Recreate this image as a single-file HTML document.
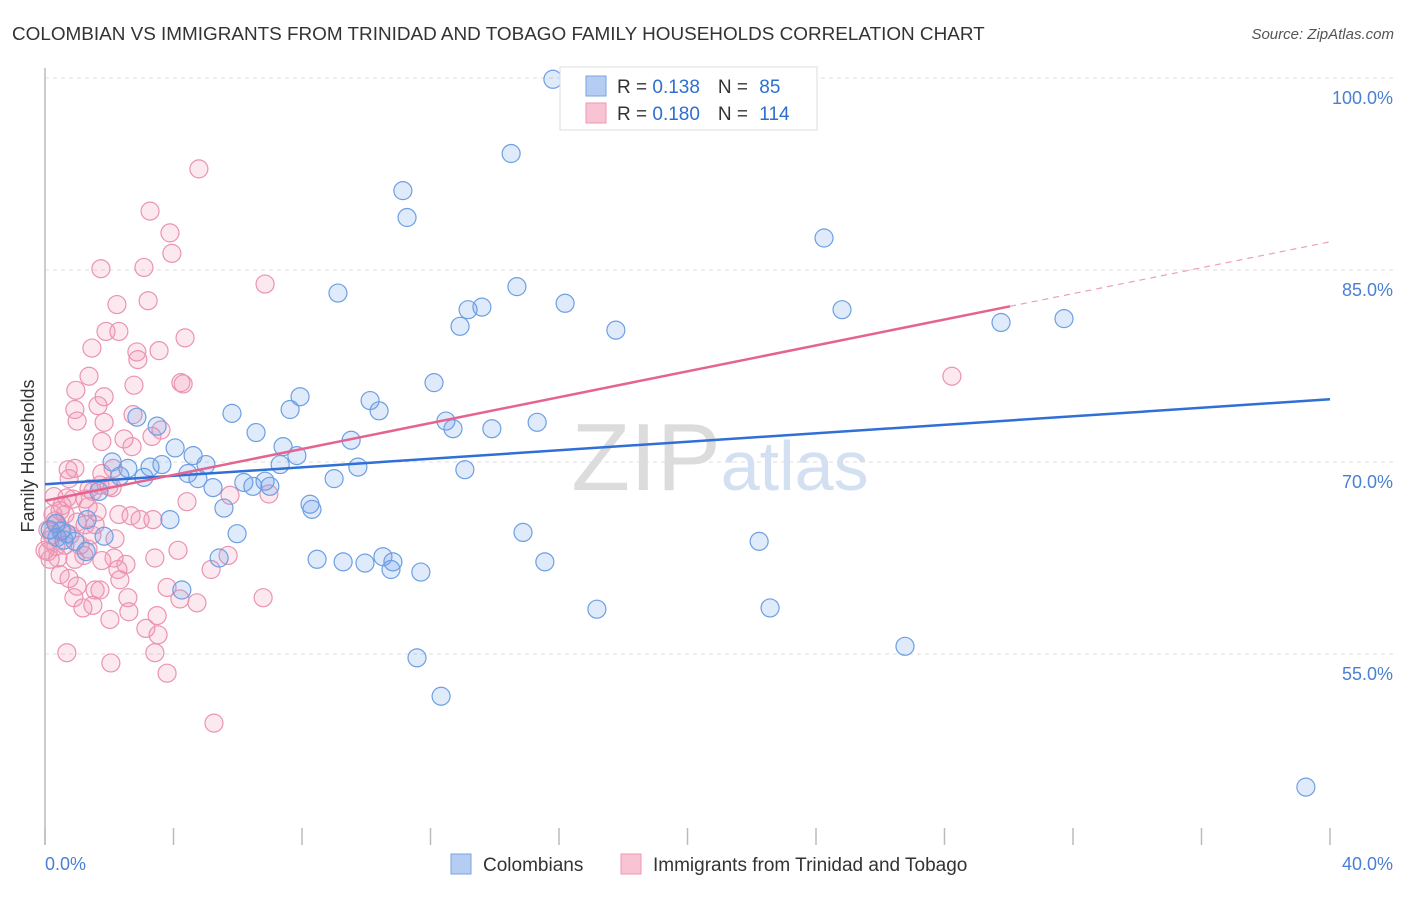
<!DOCTYPE html>
<html><head><meta charset="utf-8"><style>
body{margin:0;background:#fff;font-family:"Liberation Sans",sans-serif;}
svg text{font-family:"Liberation Sans",sans-serif;}
</style></head><body>
<svg id="chart" width="1406" height="892" xmlns="http://www.w3.org/2000/svg">
<text x="12" y="40" font-size="18.9" fill="#333">COLOMBIAN VS IMMIGRANTS FROM TRINIDAD AND TOBAGO FAMILY HOUSEHOLDS CORRELATION CHART</text>
<text x="1394" y="39" font-size="15" fill="#555" text-anchor="end" font-style="italic">Source: ZipAtlas.com</text>
<g id="grid"></g>
<text x="720" y="490" font-size="96" text-anchor="middle" fill="#ddd" font-family="Liberation Serif"><tspan fill="#dcdcdc">ZIP</tspan><tspan fill="#d3e0f2" font-family="Liberation Sans" font-size="70">atlas</tspan></text>
<line x1="45" y1="68" x2="45" y2="845" stroke="#bbb" stroke-width="1.5"/>
<text transform="translate(34,456) rotate(-90)" font-size="18" fill="#333" text-anchor="middle">Family Households</text>
<text x="45" y="870" font-size="18" fill="#4a7fd4">0.0%</text>
<text x="1393" y="870" font-size="18" fill="#4a7fd4" text-anchor="end">40.0%</text>
<g id="points"></g>
<g id="lines"></g>
<g>
<rect x="560" y="67" width="257" height="63" fill="#fff" stroke="#ddd"/>
<rect x="586" y="76" width="20" height="20" fill="#b5cdf2" stroke="#7aa3e0"/>
<rect x="586" y="103" width="20" height="20" fill="#f8c4d4" stroke="#ec97b2"/>
<text x="617" y="93" font-size="19" fill="#333">R = <tspan fill="#2c6fd1">0.138</tspan><tspan dx="18">N = </tspan><tspan fill="#2c6fd1" dx="6">85</tspan></text>
<text x="617" y="120" font-size="19" fill="#333">R = <tspan fill="#2c6fd1">0.180</tspan><tspan dx="18">N = </tspan><tspan fill="#2c6fd1" dx="6">114</tspan></text>
</g>
<g>
<rect x="451" y="854" width="20" height="20" fill="#b5cdf2" stroke="#7aa3e0"/>
<text x="483" y="871" font-size="19" fill="#333">Colombians</text>
<rect x="621" y="854" width="20" height="20" fill="#f8c4d4" stroke="#ec97b2"/>
<text x="653" y="871" font-size="19" fill="#333">Immigrants from Trinidad and Tobago</text>
</g>
</svg>
<script>
const yTicks=[100,85,70,55];
const yTickLabels=["100.0%","85.0%","70.0%","55.0%"];
const xTicks=[0,4,8,12,16,20,24,28,32,36,40];
const blueX=[15.81,14.51,11.14,11.27,24.25,9.12,14.69,16.19,13.17,13.60,12.92,17.77,24.81,29.76,31.72,12.11,7.94,7.63,10.12,10.40,5.82,2.86,3.49,12.48,12.70,13.91,15.32,9.53,6.57,7.41,7.84,4.05,4.61,2.09,3.27,3.64,2.58,5.01,4.45,7.32,9.74,13.07,4.76,2.33,3.08,9.00,5.23,6.19,6.47,6.85,7.00,1.68,8.25,8.31,5.57,3.89,5.98,14.88,22.23,1.84,0.37,0.93,0.68,1.31,5.42,8.47,9.28,9.96,10.52,10.83,10.77,11.70,15.56,4.26,17.18,22.57,26.77,11.58,12.33,39.25,0.16,0.59,1.28,0.34,0.5];
const blueY=[99.9,94.1,91.2,89.1,87.5,83.2,83.7,82.4,81.9,82.1,80.6,80.3,81.9,80.9,81.2,76.2,75.1,74.1,74.8,74.0,73.8,73.5,72.8,73.2,72.6,72.6,73.1,71.7,72.3,71.2,70.5,71.1,70.5,70.0,69.6,69.8,69.5,69.8,69.1,69.8,69.6,69.4,68.7,68.9,68.8,68.7,68.0,68.4,68.1,68.5,68.1,67.7,66.7,66.3,66.4,65.5,64.4,64.5,63.8,64.2,64.1,63.8,64.4,65.5,62.5,62.4,62.2,62.1,62.6,62.2,61.6,61.4,62.2,60.0,58.5,58.6,55.6,54.7,51.7,44.6,64.7,63.9,63.0,65.2,64.6];
const pinkX=[4.79,3.27,3.89,3.95,1.74,3.08,6.85,3.21,2.24,4.36,1.90,2.30,1.46,2.86,3.55,2.89,1.37,2.77,4.23,4.30,0.96,1.84,1.65,0.93,1.00,2.74,1.84,1.77,3.61,3.33,2.46,2.71,0.93,0.72,1.77,2.12,0.75,2.09,1.99,1.49,1.37,1.71,0.28,0.68,0.87,4.42,5.76,6.97,0.47,1.34,0.62,1.00,1.62,0.31,1.25,2.30,2.68,3.36,1.46,0.37,0.53,0.16,0.34,0.09,0.40,1.34,1.77,2.15,2.52,3.42,4.14,5.70,5.17,2.27,1.21,0.75,1.00,1.56,2.58,3.80,6.79,4.73,0.90,1.49,1.18,2.61,3.49,3.14,3.52,3.42,0.68,2.05,3.80,5.26,28.23,0.16,0.09,0.25,0.53,0.78,1.09,0.0,0.22,0.47,1.71,2.33,2.96,4.20,2.02,0.93,1.56,0.62,1.25,2.18];
const pinkY=[92.9,89.6,87.9,86.3,85.1,85.2,83.9,82.6,82.3,79.7,80.2,80.2,78.9,78.6,78.7,78.0,76.7,76.0,76.2,76.1,75.6,75.1,74.4,74.1,73.2,73.7,73.1,71.6,72.5,72.0,71.8,71.2,69.5,69.4,69.1,69.5,68.7,68.0,68.1,67.7,67.9,68.2,67.3,67.2,67.1,66.9,67.4,67.5,66.2,66.5,65.9,65.3,66.1,65.4,65.1,65.9,65.8,65.5,64.3,65.2,64.7,63.9,63.4,63.0,62.5,63.2,62.3,62.5,62.0,62.5,63.1,62.7,61.6,61.6,62.7,60.9,60.3,60.0,59.4,60.2,59.4,59.0,59.4,58.8,58.6,58.3,58.0,57.0,56.5,55.1,55.1,54.3,53.5,49.6,76.7,62.4,64.7,65.9,66.6,64.3,63.5,63.1,64.3,61.2,60.0,60.8,65.5,59.3,57.7,62.4,65.1,63.5,67.1,64.0];
const blueTrend=[68.26,74.9];
const pinkTrend=[66.97,87.2];
const pinkSolidEnd=30.04;

const NS="http://www.w3.org/2000/svg";
function sx(v){return 45+v*32.125;}
function sy(v){return 78+(100-v)*12.8;}
function mk(t,a,p){const e=document.createElementNS(NS,t);for(const k in a)e.setAttribute(k,a[k]);p.appendChild(e);return e;}
const grid=document.getElementById('grid');
yTicks.forEach((v,i)=>{
  const l=mk('line',{x1:45,x2:1393,y1:sy(v),y2:sy(v),stroke:'#ddd','stroke-dasharray':'4,4'},grid);
  
  
  const t=mk('text',{x:1393,y:sy(v)+26,'font-size':18,fill:'#4a7fd4','text-anchor':'end'},grid);
  t.textContent=yTickLabels[i];
  
  
});
xTicks.forEach(v=>{
  const l=mk('line',{x1:sx(v),x2:sx(v),y1:828,y2:845,stroke:'#bbb','stroke-width':1.5},grid);
  
  
});
const pts=document.getElementById('points');
pinkX.forEach((x,i)=>{
  const c=mk('circle',{cx:sx(x),cy:sy(pinkY[i]),r:9,fill:'rgba(243,150,180,0.22)',stroke:'#eb93b0','stroke-width':1.2},pts);
  
  
});
blueX.forEach((x,i)=>{
  const c=mk('circle',{cx:sx(x),cy:sy(blueY[i]),r:9,fill:'rgba(110,160,235,0.22)',stroke:'#6d9fe2','stroke-width':1.2},pts);
  
  
});
const lg=document.getElementById('lines');
const bl=mk('line',{x1:sx(0),y1:sy(blueTrend[0]),x2:sx(40),y2:sy(blueTrend[1]),stroke:'#2f6fd6','stroke-width':2.5},lg);


const pm=(pinkTrend[1]-pinkTrend[0])/40;
const pl=mk('line',{x1:sx(0),y1:sy(pinkTrend[0]),x2:sx(pinkSolidEnd),y2:sy(pinkTrend[0]+pm*pinkSolidEnd),stroke:'#e5648f','stroke-width':2.5},lg);


const pd=mk('line',{x1:sx(pinkSolidEnd),y1:sy(pinkTrend[0]+pm*pinkSolidEnd),x2:sx(40),y2:sy(pinkTrend[1]),stroke:'#eaa0b8','stroke-width':1.2,'stroke-dasharray':'6,5'},lg);


</script>
</body></html>
